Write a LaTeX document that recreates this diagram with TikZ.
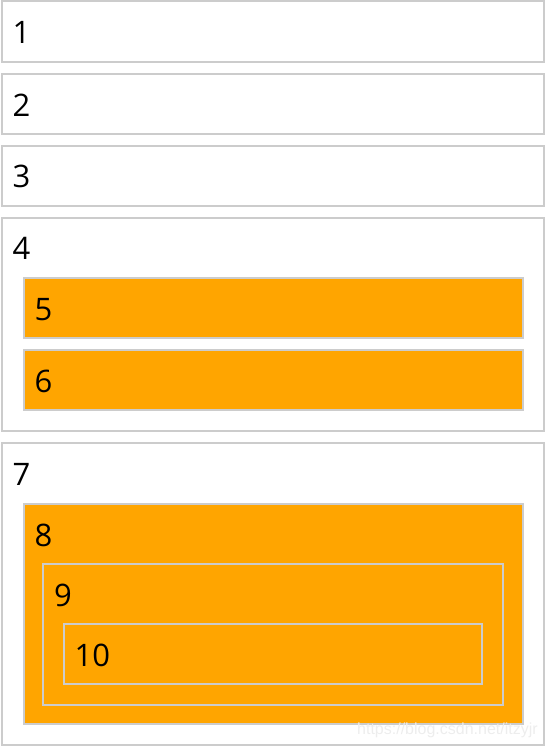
\documentclass[tikz,border=0pt]{standalone}
\usepackage{fontspec}
\setmainfont{Open Sans}
\newfontfamily\markfont{Liberation Sans}
\definecolor{cssorange}{HTML}{FFA500}
\definecolor{rim}{HTML}{CCCCCC}

\begin{document}
\begin{tikzpicture}[x=1pt,y=-1pt,
    box/.style={draw=rim,line width=2pt},
    hotbox/.style={box,fill=cssorange},
    num/.style={anchor=base west,inner sep=0pt,font=\fontsize{31}{36}\selectfont}]
  \useasboundingbox (0,0) rectangle (546,748);
  % plain rows
  \draw[box] (2,1) rectangle (544,62);
  \node[num] (n1) at (12.5,43.5) {1};
  \draw[box] (2,73.5) rectangle (544,133.5);
  \node[num] (n2) at (12.5,116) {2};
  \draw[box] (2,145.5) rectangle (544,205.5);
  \node[num] (n3) at (12.5,187.5) {3};
  % row with two children
  \draw[box] (2,217.5) rectangle (544,431);
  \node[num] (n4) at (12.5,259) {4};
  \draw[hotbox] (24,278) rectangle (523,338);
  \node[num] (n5) at (34.5,320) {5};
  \draw[hotbox] (24,350) rectangle (523,410);
  \node[num] (n6) at (34.5,392) {6};
  % nested row
  \draw[box] (2,443) rectangle (544,745);
  \node[num] (n7) at (12.5,485) {7};
  \draw[hotbox] (24,504) rectangle (523,724);
  \node[num] (n8) at (34.5,546) {8};
  \draw[box] (43,563.5) rectangle (503,705);
  \node[num] (n9) at (54,606) {9};
  \draw[box] (64,624) rectangle (482,684);
  \node[num] (n10) at (74.5,666) {10};
  % watermark
  \node[anchor=base west,inner sep=0pt,text=white!93!black,
        font=\markfont\fontsize{16}{18}\selectfont] (mark) at (357,734) {https://blog.csdn.net/itzyjr};
\end{tikzpicture}
\end{document}
